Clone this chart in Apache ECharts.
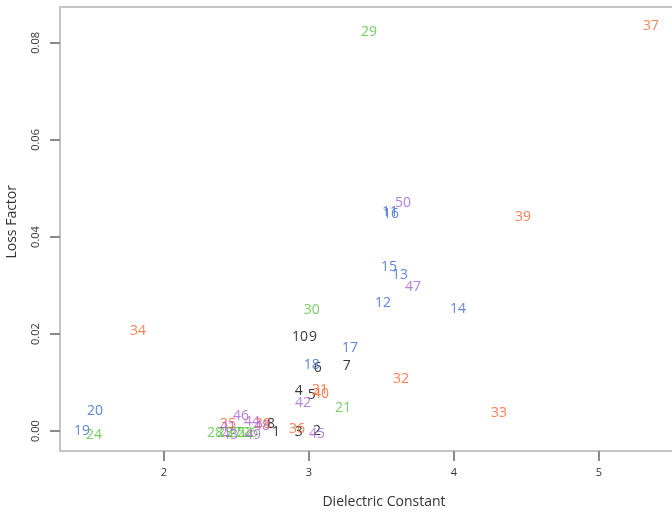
<!DOCTYPE html>
<html>
<head>
<meta charset="utf-8">
<script src="https://cdn.jsdelivr.net/npm/echarts@6/dist/echarts.min.js"></script>
<style>html,body{margin:0;padding:0;background:#fff}#c{width:672px;height:516px}</style>
</head>
<body>
<div id="c"></div>
<script>
// Group 1 (black)
const labelsA = ['1','2','3','4','5','6','7','8','9','10'];
const xA = [2.772, 3.055, 2.93, 2.93, 3.02, 3.06, 3.26, 2.738, 3.028, 2.938];
const yA = [-0.0002, 0.0001, -0.0001, 0.0082, 0.0074, 0.0129, 0.0134, 0.0014, 0.0193, 0.0193];
// Group 2 (blue)
const labelsB = ['11','12','13','14','15','16','17','18','19','20'];
const xB = [3.559, 3.51, 3.628, 4.028, 3.552, 3.566, 3.283, 3.02, 1.434, 1.524];
const yB = [0.0452, 0.0263, 0.0321, 0.0251, 0.0339, 0.0447, 0.0171, 0.0136, 0.0000, 0.0041];
// Group 3 (green)
const labelsC = ['21','22','23','24','25','26','27','28','29','30'];
const xC = [3.234, 2.559, 2.421, 1.517, 2.503, 2.593, 2.48, 2.352, 3.414, 3.02];
const yC = [0.0047, -0.0004, -0.0003, -0.0008, -0.0004, -0.0004, -0.0003, -0.0004, 0.0822, 0.0249];
// Group 4 (orange)
const labelsD = ['31','32','33','34','35','36','37','38','39','40'];
const xD = [3.076, 3.634, 4.31, 1.821, 2.441, 2.917, 5.359, 2.683, 4.476, 3.083];
const yD = [0.0084, 0.0107, 0.0037, 0.0206, 0.0014, 0.0004, 0.0835, 0.0014, 0.0442, 0.0076];
// Group 5 (purple)
const labelsE = ['41','42','43','44','45','46','47','48','49','50'];
const xE = [2.441, 2.959, 2.455, 2.607, 3.055, 2.531, 3.717, 2.676, 2.614, 3.648];
const yE = [0.0008, 0.0058, -0.0008, 0.0018, -0.0006, 0.0031, 0.0296, 0.001, -0.0008, 0.0471];

const xTicks = [2, 3, 4, 5];
const yTicks = [0, 0.02, 0.04, 0.06, 0.08];

const groups = [
  {labels: labelsA, x: xA, y: yA, color: '#000000'},
  {labels: labelsB, x: xB, y: yB, color: '#3a66d0'},
  {labels: labelsC, x: xC, y: yC, color: '#55c23c'},
  {labels: labelsD, x: xD, y: yD, color: '#ff5f2a'},
  {labels: labelsE, x: xE, y: yE, color: '#a95ccf'}
];

const FONT = '"Open Sans", "Noto Sans", sans-serif';

const series = groups.map(g => ({
  type: 'scatter',
  symbolSize: 0,
  data: g.labels.map((l, i) => ({name: l, value: [g.x[i], g.y[i]]})),
  label: {
    show: true,
    position: 'inside',
    formatter: p => p.name,
    color: g.color,
    fontSize: 14,
    fontFamily: FONT
  },
  itemStyle: {color: g.color},
  emphasis: {disabled: true}
}));

const chart = echarts.init(document.getElementById('c'));
chart.setOption({
  animation: false,
  grid: {
    left: 60, top: 7, right: -36, bottom: 65,
    outerBoundsMode: 'none',
    show: true, borderColor: '#c4c4c4', borderWidth: 2
  },
  graphic: [{
    type: 'text',
    left: 5, top: 185,
    rotation: Math.PI / 2,
    style: {text: 'Loss Factor', fill: '#333', font: '14px ' + FONT}
  }],
  xAxis: {
    type: 'value',
    min: 1.283, max: 5.752,
    name: 'Dielectric Constant',
    nameLocation: 'middle',
    nameGap: 44,
    nameTextStyle: {fontSize: 14, color: '#333', fontFamily: FONT},
    axisLine: {show: true, onZero: false, lineStyle: {color: '#c4c4c4', width: 2}},
    axisTick: {show: true, length: 10, lineStyle: {color: '#8a8a8a', width: 2}, customValues: xTicks},
    axisLabel: {fontSize: 11, color: '#333', fontFamily: FONT, margin: 16, customValues: xTicks},
    splitLine: {show: false}
  },
  yAxis: {
    type: 'value',
    min: -0.0041, max: 0.0874,
    axisLine: {show: true, onZero: false, lineStyle: {color: '#c4c4c4', width: 2}},
    axisTick: {show: true, length: 10, lineStyle: {color: '#8a8a8a', width: 2}, customValues: yTicks},
    axisLabel: {fontSize: 11, color: '#333', fontFamily: FONT, margin: 19, rotate: 90, customValues: yTicks, formatter: v => v.toFixed(2)},
    splitLine: {show: false}
  },
  series: series
});
</script>
</body>
</html>
